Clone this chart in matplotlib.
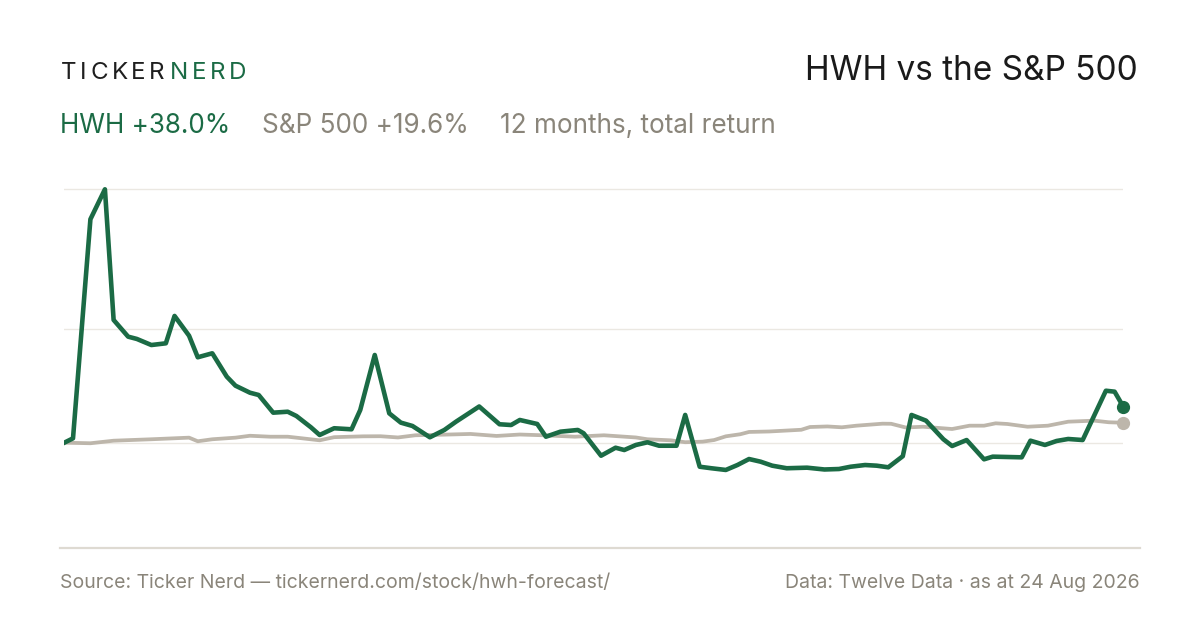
import matplotlib
matplotlib.use("Agg")
import matplotlib.pyplot as plt
from matplotlib.lines import Line2D

plt.rcParams['font.family'] = ['Inter', 'DejaVu Sans']

GREEN = '#1b6b45'
SPX_GREY = '#bdb6ab'
TEXT_GREY = '#8a857a'
GRID = '#ebe8e2'

# days since start, total return in %
hwh_days = [0, 3, 9, 14, 17, 22, 25, 30, 35, 38, 43, 46, 51, 56, 59, 64, 67, 72, 77, 80,
            85, 88, 93, 99, 102, 107, 112, 116, 120, 126, 131, 135, 143, 150, 154, 157, 163, 166, 171, 177,
            179, 185, 190, 193, 197, 201, 205, 211, 214, 219, 223, 228, 232, 236, 240, 244, 249, 256, 262, 267,
            271, 276, 280, 284, 289, 292, 297, 303, 306, 311, 317, 320, 330, 333, 338, 342, 346, 351, 359, 362,
            365]
hwh_ret = [0.0, 4.6, 235.2, 266.7, 129.2, 111.6, 109.2, 102.8, 104.6, 133.4, 112.6, 89.9, 94.1, 69.5, 60.0, 52.6, 50.2, 31.6, 32.6, 28.1,
           16.2, 8.1, 15.2, 14.1, 34.4, 92.3, 30.9, 21.1, 17.6, 5.7, 13.4, 22.1, 38.1, 19.4, 18.6, 23.9, 19.7, 6.3, 11.6, 13.4,
           9.9, -13.7, -5.3, -7.7, -2.4, 0.4, -3.2, -3.2, 29.2, -25.3, -26.9, -28.7, -23.5, -17.2, -20.0, -24.2, -26.9, -26.3, -28.2, -27.7,
           -25.3, -23.5, -24.2, -25.9, -14.2, 29.2, 23.2, 3.6, -3.5, 2.8, -17.5, -14.7, -15.4, 2.1, -2.4, 1.8, 3.9, 2.8, 54.7, 53.7,
           37.9]

spx_days = [0, 9, 17, 30, 43, 46, 51, 59, 64, 71, 77, 82, 88, 93, 103, 109, 115, 121, 130, 140,
            149, 157, 165, 176, 186, 197, 201, 209, 214, 220, 224, 228, 233, 236, 243, 254, 257, 263, 268, 273,
            282, 285, 290, 296, 306, 312, 317, 321, 325, 332, 339, 346, 355, 360, 365]
spx_ret = [0.0, -0.6, 2.1, 3.6, 5.3, 1.5, 3.6, 5.3, 7.3, 6.3, 6.3, 4.6, 2.5, 5.8, 6.7, 6.8, 5.5, 7.8, 8.4, 9.2,
           7.1, 8.6, 7.8, 6.3, 7.8, 5.5, 3.6, 2.5, 0.5, 1.1, 2.8, 6.7, 8.9, 11.3, 11.8, 13.6, 16.5, 17.1, 16.2, 17.9,
           20.0, 19.9, 16.0, 16.8, 14.4, 17.9, 17.9, 20.4, 19.7, 16.8, 17.9, 22.1, 23.2, 21.5, 21.0]

grid_vals = [0, 120, 267]

title = 'HWH vs the S&P 500'
hwh_label = 'HWH +38.0%'
spx_label = 'S&P 500 +19.6%'
period_label = '12 months, total return'
source_text = 'Source: Ticker Nerd \u2014 tickernerd.com/stock/hwh-forecast/'
data_text = 'Data: Twelve Data \u00b7 as at 24 Aug 2026'

W, H = 1200, 630
fig = plt.figure(figsize=(12, 6.3), dpi=100)
fig.patch.set_facecolor('white')


def fx(px):
    return px / W


def fy(py):
    return 1 - py / H


ax = fig.add_axes([fx(64.3), fy(530), 1059 / W, 350 / H])
ax.set_xlim(0, 365)
ax.set_ylim(-91.9, 276.5)
ax.axis('off')

for v in grid_vals:
    ax.axhline(v, color=GRID, lw=1.0, zorder=0)

ax.plot(spx_days, spx_ret, color=SPX_GREY, lw=2.7, solid_joinstyle='round', zorder=2)
ax.plot(hwh_days, hwh_ret, color=GREEN, lw=3.3, solid_joinstyle='round', zorder=3)
ax.plot(spx_days[-1], spx_ret[-1], 'o', color=SPX_GREY, ms=8.5, clip_on=False, zorder=4)
ax.plot(hwh_days[-1], hwh_ret[-1], 'o', color=GREEN, ms=8.5, clip_on=False, zorder=5)

renderer = fig.canvas.get_renderer()


def tracked(x, y, s, color, size, track):
    for ch in s:
        t = fig.text(fx(x), fy(y), ch, color=color, fontsize=size, va='baseline', ha='left')
        x += t.get_window_extent(renderer).width + track
    return x


# logo
tracked(61, 79.3, 'TICKER', '#1f1f1f', 17.4, 3.6)
tracked(170, 79.3, 'NERD', GREEN, 17.4, 3.6)

fig.text(fx(1138), fy(80), title, color='#1a1a1a', fontsize=24, ha='right', va='baseline')

fig.text(fx(60), fy(133.3), hwh_label, color=GREEN, fontsize=18.8, va='baseline')
fig.text(fx(262), fy(133.3), spx_label, color=TEXT_GREY, fontsize=18.8, va='baseline')
fig.text(fx(500), fy(133.3), period_label, color=TEXT_GREY, fontsize=18.8, va='baseline')

fig.add_artist(Line2D([fx(60), fx(1140)], [fy(548), fy(548)], color='#dedad2', lw=1.6))

fig.text(fx(60), fy(588), source_text, color=TEXT_GREY, fontsize=14, va='baseline')
fig.text(fx(1140), fy(588), data_text, color=TEXT_GREY, fontsize=14, va='baseline', ha='right')

fig.savefig('out.png', dpi=100, facecolor='white')
